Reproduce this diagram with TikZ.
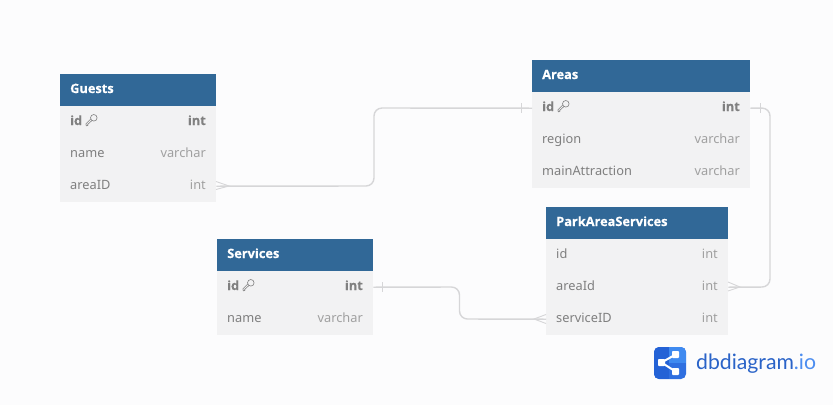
\documentclass[tikz,border=0pt]{standalone}
\usepackage{fontspec}
\setmainfont{Noto Sans}
\newfontfamily\boldfam{Open Sans}[FakeBold=0.4]
\newfontfamily\logofont{Lato}
\definecolor{pagebg}{HTML}{FCFCFD}
\definecolor{headbg}{HTML}{316897}
\definecolor{rowbg}{HTML}{F2F2F3}
\definecolor{rowtext}{HTML}{7F7F7F}
\definecolor{typetext}{HTML}{A0A0A0}
\definecolor{idtext}{HTML}{808080}
\definecolor{linkc}{HTML}{D6D6D8}
\definecolor{logodark}{HTML}{2462D6}
\definecolor{logomid}{HTML}{2F6FE0}
\definecolor{logolight}{HTML}{3F8AF0}
\definecolor{logotext}{HTML}{2A63C8}
\definecolor{logoio}{HTML}{4C8DF0}
\tikzset{
  x=1pt,y=-1pt,
  tablehead/.style={fill=headbg,draw=none,inner sep=0pt,minimum height=32pt,anchor=north west},
  tablerow/.style={fill=rowbg,draw=none,inner sep=0pt,minimum height=32pt,anchor=north west},
  headtext/.style={anchor=base west,text=white,font=\boldfam\fontsize{12.8}{15}\selectfont\bfseries,inner sep=0pt},
  coltext/.style={anchor=base west,text=rowtext,font=\fontsize{12.8}{15}\selectfont,inner sep=0pt},
  typetxt/.style={anchor=base east,text=typetext,font=\fontsize{12.8}{15}\selectfont,inner sep=0pt},
  pkname/.style={anchor=base west,text=idtext,font=\boldfam\fontsize{12.8}{15}\selectfont\bfseries,inner sep=0pt},
  pktype/.style={anchor=base east,text=idtext,font=\boldfam\fontsize{12.8}{15}\selectfont\bfseries,inner sep=0pt},
  link/.style={draw=linkc,line width=1.4pt,rounded corners=8pt},
  endmark/.style={draw=linkc,line width=0.9pt},
  keyicon/.style={draw=idtext,line width=0.6pt,fill=none}
}
\newcommand{\keyat}[1]{%
  \draw[keyicon,shift={(#1)}] (2.3,-2.2) circle[radius=3.3];
  \draw[keyicon,shift={(#1)},line join=round] (0.3,0.6) -- (-3.8,4.4) -- (-3.6,5.6) -- (-5.2,5.8) -- (-5.6,3.8) -- (-0.6,-1.2);
}
\begin{document}
\begin{tikzpicture}
\useasboundingbox (0,0) rectangle (833,405);
\fill[pagebg] (0,0) rectangle (833,405);

% Guests
\node[tablehead,minimum width=156pt] (guests) at (60,74) {};
\node[tablerow,minimum width=156pt] (guestsid) at (60,106) {};
\node[tablerow,minimum width=156pt] (guestsname) at (60,138) {};
\node[tablerow,minimum width=156pt] (guestsarea) at (60,170) {};
\node[headtext] (t1) at (70,93) {Guests};
\node[pkname] (t2) at (70,125) {id};
\keyat{91.5,120}
\node[pktype] (t3) at (206,125) {int};
\node[coltext] (t4) at (70,157) {name};
\node[typetxt] (t5) at (206,157) {varchar};
\node[coltext] (t6) at (70,189) {areaID};
\node[typetxt] (t7) at (206,189) {int};

% Areas
\node[tablehead,minimum width=218pt] (areas) at (532,60) {};
\node[tablerow,minimum width=218pt] (areasid) at (532,92) {};
\node[tablerow,minimum width=218pt] (areasregion) at (532,124) {};
\node[tablerow,minimum width=218pt] (areasmain) at (532,156) {};
\node[headtext] (t8) at (542,79) {Areas};
\node[pkname] (t9) at (542,111) {id};
\keyat{563.5,106}
\node[pktype] (t10) at (740,111) {int};
\node[coltext] (t11) at (542,143) {region};
\node[typetxt] (t12) at (740,143) {varchar};
\node[coltext] (t13) at (542,175) {mainAttraction};
\node[typetxt] (t14) at (740,175) {varchar};

% ParkAreaServices
\node[tablehead,minimum width=182pt] (pas) at (546,207) {};
\node[tablerow,minimum width=182pt] (pasid) at (546,239) {};
\node[tablerow,minimum width=182pt] (pasarea) at (546,271) {};
\node[tablerow,minimum width=182pt] (passervice) at (546,303) {};
\node[headtext] (t15) at (556,226) {ParkAreaServices};
\node[coltext] (t16) at (556,258) {id};
\node[typetxt] (t17) at (718,258) {int};
\node[coltext] (t18) at (556,290) {areaId};
\node[typetxt] (t19) at (718,290) {int};
\node[coltext] (t20) at (556,322) {serviceID};
\node[typetxt] (t21) at (718,322) {int};

% Services
\node[tablehead,minimum width=156pt] (services) at (217,239) {};
\node[tablerow,minimum width=156pt] (servicesid) at (217,271) {};
\node[tablerow,minimum width=156pt] (servicesname) at (217,303) {};
\node[headtext] (t22) at (227,258) {Services};
\node[pkname] (t23) at (227,290) {id};
\keyat{248.5,285}
\node[pktype] (t24) at (363,290) {int};
\node[coltext] (t25) at (227,322) {name};
\node[typetxt] (t26) at (363,322) {varchar};

% Connectors
\draw[link] (guestsarea.east) -- (374,186) -- (374,108) -- (areasid.west);
\draw[link] (areasid.east) -- (770,108) -- (770,287) -- (pasarea.east);
\draw[link] (servicesid.east) -- (459.5,287) -- (459.5,319) -- (passervice.west);

% Crow's feet and bars
\draw[endmark] (216,181.5) -- (229,186) -- (216,189.5);
\draw[endmark] (521,103) -- (521,113);
\draw[endmark] (760,103) -- (760,113);
\draw[endmark] (728,282) -- (740,287) -- (728,291);
\draw[endmark] (382,282) -- (382,292);
\draw[endmark] (546,314.5) -- (534,319) -- (546,323.5);

% Logo
\fill[logomid,rounded corners=5pt] (654,347) rectangle (686,379);
\begin{scope}
  \clip[rounded corners=5pt] (654,347) rectangle (686,379);
  \fill[logodark] (654,347) rectangle (669,379);
  \fill[logolight] (669,347) rectangle (686,363);
\end{scope}
\draw[white,line width=2pt] (661.5,362.5) -- (675.5,354.5);
\draw[white,line width=2pt] (661.5,362.5) -- (675.5,371.5);
\fill[white,rounded corners=0.8pt] (658,359) rectangle (665,366);
\fill[white,rounded corners=0.8pt] (672,351) rectangle (679,358);
\fill[white,rounded corners=0.8pt] (672,368) rectangle (679,375);
\node[anchor=west,inner sep=0pt,font=\logofont\fontsize{21.2}{24}\selectfont] (logo) at (696,364) {\textcolor{logotext}{dbdiagram}\textcolor{logoio}{.io}};
\end{tikzpicture}
\end{document}
